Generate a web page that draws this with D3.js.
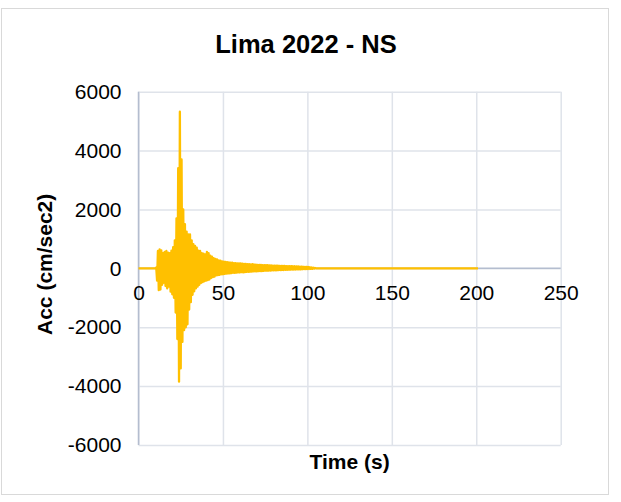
<!DOCTYPE html>
<html>
<head>
<meta charset="utf-8">
<script src="https://cdn.jsdelivr.net/npm/d3@7"></script>
<style>
  html, body { margin: 0; padding: 0; background: #ffffff; }
  svg { display: block; font-family: "Liberation Sans", Arial, sans-serif; }
</style>
</head>
<body>
<svg id="chart" width="621" height="502"></svg>
<script>
// Record: Lima 2022, NS component, acceleration in cm/sec2
const chartTitle = "Lima 2022 - NS";
const xTitle = "Time (s)";
const yTitle = "Acc (cm/sec2)";

const xTicks = [0, 50, 100, 150, 200, 250];
const yTicks = [-6000, -4000, -2000, 0, 2000, 4000, 6000];

// Quiet record before and after the strong motion window
const recordStart = 0;
const recordEnd = 201;

// Strong motion window: samples every dt seconds starting at motionStart
const motionStart = 10;
const dt = 0.5;
const acc = [
  0, 30, -420, 590, -740, 640, -720, 610, -560, 520,
  -490, 560, -600, 590, -680, 530, -620, 520, -790, 600,
  -880, 720, -1000, 950, -1500, 1700, -2400, 3400, -3850, 5320,
  -3400, 3700, -2500, 2000, -2100, 1500, -2000, 1250, -1900, 1150,
  -1400, 1150, -1150, 950, -900, 820, -780, 760, -680, 700,
  -620, 600, -560, 590, -500, 520, -470, 500, -440, 470,
  -420, 560, -400, 520, -380, 430, -330, 400, -300, 350,
  -280, 320, -240, 300, -230, 270, -220, 260, -200, 240,
  -200, 230, -190, 220, -180, 210, -175, 200, -170, 195,
  -160, 190, -150, 180, -155, 175, -145, 170, -140, 165,
  -140, 165, -130, 160, -135, 150, -125, 150, -120, 145,
  -120, 140, -115, 135, -110, 140, -105, 130, -100, 125,
  -100, 120, -95, 120, -90, 115, -90, 110, -85, 110,
  -80, 112, -80, 105, -75, 100, -75, 100, -70, 95,
  -70, 95, -65, 90, -65, 90, -60, 85, -60, 85,
  -55, 80, -55, 80, -50, 78, -50, 75, -45, 75,
  -45, 72, -40, 70, -40, 70, -38, 68, -35, 65,
  -35, 60, -32, 58, -30, 55, -28, 50, -25, 48,
  -22, 45, -20, 40, -18, 30, -15, 25, -10, 15,
  0
];

const points = [[recordStart, 0]]
  .concat(acc.map((a, i) => [motionStart + i * dt, a]))
  .concat([[recordEnd, 0]]);

const svg = d3.select("#chart");
const W = 621, H = 502;
const plot = { left: 138.5, right: 560.7, top: 91.7, bottom: 445 };

svg.append("rect").attr("width", W).attr("height", H).attr("fill", "#ffffff");
// chart frame
svg.append("rect")
  .attr("x", 1.5).attr("y", 8.5).attr("width", 607).attr("height", 486)
  .attr("fill", "none").attr("stroke", "#d9d9d9").attr("stroke-width", 1);

const x = d3.scaleLinear().domain([0, 250]).range([plot.left, plot.right]);
const y = d3.scaleLinear().domain([-6000, 6000]).range([plot.bottom, plot.top]);

const gridColor = "#dfe3ea";
const axisColor = "#b4bdcf";
const plainNumber = d => String(d);

// gridlines
svg.append("g")
  .attr("transform", `translate(0,${plot.bottom})`)
  .call(d3.axisBottom(x).tickValues(xTicks).tickSize(-(plot.bottom - plot.top)).tickFormat(""))
  .call(g => g.select(".domain").remove())
  .call(g => g.selectAll("line").attr("stroke", gridColor).attr("stroke-width", 1.5));

svg.append("g")
  .attr("transform", `translate(${plot.left},0)`)
  .call(d3.axisLeft(y).tickValues(yTicks).tickSize(-(plot.right - plot.left)).tickFormat(""))
  .call(g => g.select(".domain").remove())
  .call(g => g.selectAll("line").attr("stroke", gridColor).attr("stroke-width", 1.5));

// value axis line (left) and category axis line at zero
svg.append("line")
  .attr("x1", x(0)).attr("x2", x(0)).attr("y1", plot.top).attr("y2", plot.bottom)
  .attr("stroke", axisColor).attr("stroke-width", 1.5);
svg.append("line")
  .attr("x1", plot.left).attr("x2", plot.right).attr("y1", y(0)).attr("y2", y(0))
  .attr("stroke", axisColor).attr("stroke-width", 1.5);

// acceleration trace
svg.append("path")
  .datum(points)
  .attr("d", d3.line().x(d => x(d[0])).y(d => y(d[1])))
  .attr("fill", "none")
  .attr("stroke", "#FFC000")
  .attr("stroke-width", 2.3)
  .attr("stroke-linejoin", "round");

// tick labels
const yAxis = d3.axisLeft(y).tickValues(yTicks).tickSize(0).tickPadding(17).tickFormat(plainNumber);
svg.append("g")
  .attr("transform", `translate(${plot.left},0)`)
  .call(yAxis)
  .call(g => g.select(".domain").remove())
  .call(g => g.selectAll("text").attr("font-size", 21).attr("fill", "#000")
    .attr("font-family", "'Liberation Sans', Arial, sans-serif"));

const xAxis = d3.axisBottom(x).tickValues(xTicks).tickSize(0).tickPadding(17).tickFormat(plainNumber);
svg.append("g")
  .attr("transform", `translate(0,${y(0)})`)
  .call(xAxis)
  .call(g => g.select(".domain").remove())
  .call(g => g.selectAll("text").attr("font-size", 21).attr("fill", "#000")
    .attr("font-family", "'Liberation Sans', Arial, sans-serif"));

// titles
svg.append("text")
  .attr("x", 306).attr("y", 53)
  .attr("text-anchor", "middle")
  .attr("font-size", 25.5).attr("font-weight", "bold").attr("fill", "#000")
  .text(chartTitle);

svg.append("text")
  .attr("x", (plot.left + plot.right) / 2).attr("y", 469)
  .attr("text-anchor", "middle")
  .attr("font-size", 21).attr("font-weight", "bold").attr("fill", "#000")
  .text(xTitle);

svg.append("text")
  .attr("transform", `translate(52,${(plot.top + plot.bottom) / 2 - 4}) rotate(-90)`)
  .attr("text-anchor", "middle")
  .attr("font-size", 21).attr("font-weight", "bold").attr("fill", "#000")
  .text(yTitle);
</script>
</body>
</html>
